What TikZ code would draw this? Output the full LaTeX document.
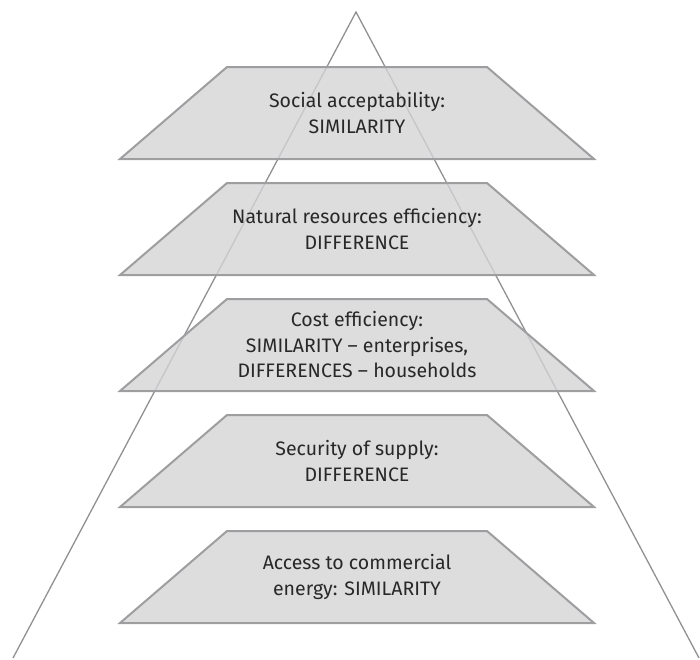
\documentclass[tikz,border=0pt]{standalone}
\usepackage{fontspec}
\setmainfont{Fira Sans}
\definecolor{tierfill}{RGB}{212,212,214}
\definecolor{tierline}{RGB}{158,158,160}
\definecolor{lineclr}{RGB}{145,145,147}
\definecolor{textcol}{RGB}{40,40,40}
% one level of the pyramid: name, top edge, text
\newcommand\tierbox[3]{%
  \draw[tier] (227,#2) -- (487,#2) -- (594,#2+92) -- (120,#2+92) -- cycle;
  \node[tiertext] (#1) at (357,#2+46) {#3};
}
\begin{document}
\begin{tikzpicture}[x=1pt,y=-1pt,
  tier/.style={draw=tierline, line width=2pt, fill=tierfill, fill opacity=0.8, draw opacity=1, line join=miter},
  tiertext/.style={align=center, text=textcol, font=\fontsize{19.5}{25.5}\selectfont, inner sep=0pt},
  outline/.style={draw=lineclr, line width=1.3pt}]
\useasboundingbox (0,0) rectangle (700,659);
% the triangle behind the levels
\coordinate (apex) at (356,12);
\coordinate (baseL) at (13,658);
\coordinate (baseR) at (699,658);
\draw[outline] (baseL) -- (apex) -- (baseR);
% the five levels, top to bottom
\tierbox{social}{67}{Social acceptability:\\SIMILARITY}
\tierbox{natural}{183}{Natural resources efficiency:\\DIFFERENCE}
\tierbox{cost}{299}{Cost efficiency:\\SIMILARITY – enterprises,\\DIFFERENCES – households}
\tierbox{security}{415}{Security of supply:\\DIFFERENCE}
\tierbox{access}{531}{Access to commercial\\energy: SIMILARITY}
\end{tikzpicture}
\end{document}
